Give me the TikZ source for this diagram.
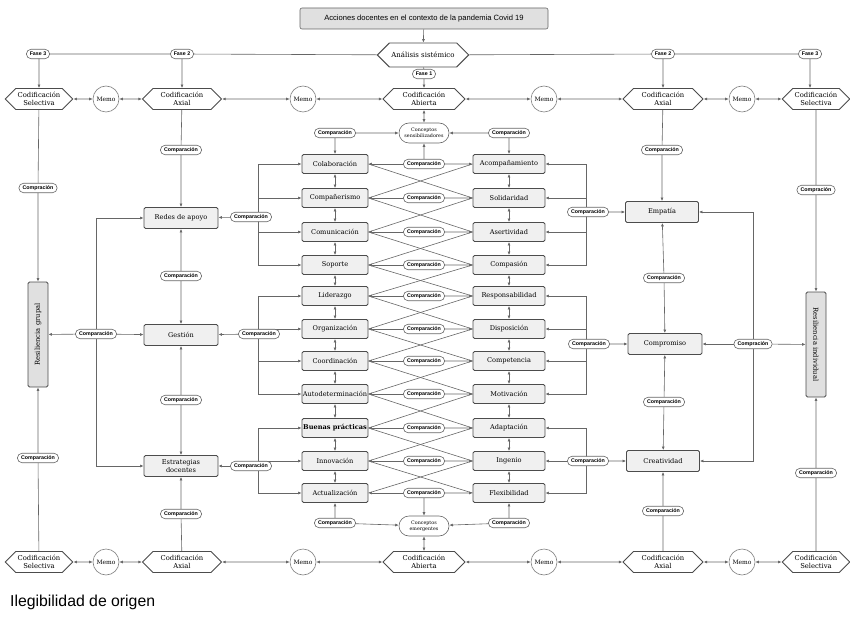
\documentclass[tikz,border=0pt]{standalone}
\usepackage{fontspec}
\setmainfont{DejaVu Serif}
\setsansfont{Liberation Sans}
\usetikzlibrary{shapes.symbols,shapes.misc,arrows.meta,backgrounds}

\begin{document}
\begin{tikzpicture}[x=1pt,y=-1pt]
  \tikzset{
    EdgeStyle/.style={draw=black!60,line width=0.6pt},
    ArrowStyle/.style={EdgeStyle,-{Latex[length=3.5pt,width=3pt]}},
    BothStyle/.style={EdgeStyle,{Latex[length=3.5pt,width=3pt]}-{Latex[length=3.5pt,width=3pt]}},
    BoxStyle/.style={draw=black!70,line width=0.9pt,rounded corners=1.5pt,fill=black!6,
      minimum height=19,inner sep=1pt,align=center,font=\fontsize{6.6}{7.6}\selectfont},
    HexStyle/.style={signal,signal to=east and west,draw=black!70,line width=0.9pt,fill=white,
      minimum height=21,inner xsep=2pt,inner ysep=1pt,align=center,font=\fontsize{6.8}{7.8}\selectfont},
    MemoStyle/.style={circle,draw=black!50,line width=0.6pt,fill=white,minimum size=26,
      inner sep=0pt,font=\fontsize{6}{7}\selectfont},
    TagStyle/.style={rounded rectangle,draw=black!60,line width=0.6pt,fill=white,minimum height=9.5,
      inner xsep=3pt,inner ysep=1.5pt,font=\sffamily\bfseries\fontsize{5.3}{6}\selectfont},
    IdeaStyle/.style={rounded rectangle,draw=black!60,line width=0.6pt,fill=white,minimum width=52,
      minimum height=20,inner sep=1pt,align=center,font=\fontsize{4.8}{5.6}\selectfont},
    ResStyle/.style={draw=black!70,line width=0.9pt,rounded corners=1.5pt,fill=black!12,
      minimum height=20,inner sep=1pt,font=\fontsize{6.8}{7.8}\selectfont}
  }
  \useasboundingbox (0,0) rectangle (850,617);

  \node[draw=black!60,line width=0.6pt,rounded corners=2pt,fill=black!12,minimum width=248,
    minimum height=21,font=\sffamily\fontsize{7.6}{8.6}\selectfont] (title) at (424,18.5)
    {Acciones docentes en el contexto de la pandemia Covid 19};
  \node[HexStyle,minimum width=85,minimum height=24,font=\fontsize{7}{8}\selectfont] (anal) at (423,55) {Análisis sistémico};
  \node[TagStyle] (f1) at (424,74) {Fase 1};
  \node[TagStyle] (f2L) at (182,54) {Fase 2};
  \node[TagStyle] (f3L) at (38,54) {Fase 3};
  \node[TagStyle] (f2R) at (663,54) {Fase 2};
  \node[TagStyle] (f3R) at (810,54) {Fase 3};

  \foreach \y/\p in {99/T,562/B}{
    \node[HexStyle,minimum width=64] (sel\p1) at (39,\y) {Codificación\\Selectiva};
    \node[MemoStyle] (mem\p1) at (106,\y) {Memo};
    \node[HexStyle,minimum width=79] (ax\p1) at (182,\y) {Codificación\\Axial};
    \node[MemoStyle] (mem\p2) at (303,\y) {Memo};
    \node[HexStyle,minimum width=82] (ab\p) at (424,\y) {Codificación\\Abierta};
    \node[MemoStyle] (mem\p3) at (544,\y) {Memo};
    \node[HexStyle,minimum width=80] (ax\p2) at (663,\y) {Codificación\\Axial};
    \node[MemoStyle] (mem\p4) at (742,\y) {Memo};
    \node[HexStyle,minimum width=60] (sel\p2) at (816,\y) {Codificación\\Selectiva};
  }

  \node[IdeaStyle] (consS) at (424,133) {Conceptos\\sensibilizadores};
  \node[IdeaStyle] (consE) at (424,526) {Conceptos\\emergentes};
  \node[TagStyle] (cU) at (335,133) {Comparación};
  \node[TagStyle] (cV) at (509,133) {Comparación};
  \node[TagStyle] (cW) at (335,523) {Comparación};
  \node[TagStyle] (cX) at (509,523) {Comparación};

  \foreach \y/\l/\r [count=\i] in {164/Colaboración/Acompañamiento,198/Compañerismo/Solidaridad,
    232/Comunicación/Asertividad,265/Soporte/Compasión,296/Liderazgo/Responsabilidad,
    329/Organización/Disposición,361/Coordinación/Competencia,394/Autodeterminación/Motivación,
    428/{\bfseries Buenas prácticas}/Adaptación,461/Innovación/Ingenio,493/Actualización/Flexibilidad}{
    \node[BoxStyle,minimum width=66] (L\i) at (335,\y) {\l};
    \node[BoxStyle,minimum width=72] (R\i) at (509,\y) {\r};
    \node[TagStyle] (M\i) at (424,\y) {Comparación};
  }

  \node[BoxStyle,minimum width=74,minimum height=21] (redes) at (181,218) {Redes de apoyo};
  \node[BoxStyle,minimum width=74,minimum height=21] (gestion) at (181,335) {Gestión};
  \node[BoxStyle,minimum width=74,minimum height=21] (estr) at (181,466) {Estrategias\\docentes};
  \node[BoxStyle,minimum width=73,minimum height=21] (emp) at (662,212) {Empatía};
  \node[BoxStyle,minimum width=74,minimum height=21] (comp) at (665,344) {Compromiso};
  \node[BoxStyle,minimum width=73,minimum height=21] (crea) at (663,461) {Creatividad};
  \node[ResStyle,rotate=90,minimum width=105] (resG) at (38,334.5) {Resiliencia grupal};
  \node[ResStyle,rotate=-90,minimum width=105] (resI) at (816,344.5) {Resiliencia individual};

  \node[TagStyle] (cA) at (38,188) {Compración};
  \node[TagStyle] (cB) at (38,458) {Comparación};
  \node[TagStyle] (cC) at (96,334) {Comparación};
  \node[TagStyle] (cD) at (181,150) {Comparación};
  \node[TagStyle] (cE) at (181,276) {Comparación};
  \node[TagStyle] (cF) at (181,400) {Comparación};
  \node[TagStyle] (cG) at (181,514) {Comparación};
  \node[TagStyle] (cH) at (251,217) {Comparación};
  \node[TagStyle] (cI) at (259,334) {Comparación};
  \node[TagStyle] (cJ) at (251,466) {Comparación};
  \node[TagStyle] (cK) at (662,150) {Comparación};
  \node[TagStyle] (cL) at (664,278) {Comparación};
  \node[TagStyle] (cM) at (664,402) {Comparación};
  \node[TagStyle] (cN) at (663,511) {Comparación};
  \node[TagStyle] (cO) at (753,344) {Compración};
  \node[TagStyle] (cP) at (816,190) {Compración};
  \node[TagStyle] (cQ) at (816,473) {Comparación};
  \node[TagStyle] (cR) at (588,212) {Comparación};
  \node[TagStyle] (cS) at (589,344) {Comparación};
  \node[TagStyle] (cT) at (588,461) {Comparación};

  \coordinate (bl) at (258,0);
  \coordinate (br) at (586,0);

  \node[anchor=base west,inner sep=0pt,font=\sffamily\fontsize{15.8}{18}\selectfont] (note) at (10,606)
    {Ilegibilidad de origen};

  \begin{scope}[on background layer]
    \draw[ArrowStyle] (title) -- (anal);
    \draw[EdgeStyle] (anal) -- (f1);
    \draw[ArrowStyle] (f1) -- (abT);
    \draw[EdgeStyle] (anal) -- (f2L) -- (f3L);
    \draw[EdgeStyle] (anal) -- (f2R) -- (f3R);
    \draw[ArrowStyle] (f3L) -- (selT1 |- f3L) -- (selT1);
    \draw[ArrowStyle] (f2L) -- (axT1);
    \draw[ArrowStyle] (f2R) -- (axT2);
    \draw[ArrowStyle] (f3R) -- (f3R |- selT2.north);
    \foreach \p in {T,B}{
      \draw[BothStyle] (sel\p1) -- (mem\p1);
      \draw[BothStyle] (mem\p1) -- (ax\p1);
      \draw[BothStyle] (ax\p1) -- (mem\p2);
      \draw[BothStyle] (mem\p2) -- (ab\p);
      \draw[BothStyle] (ab\p) -- (mem\p3);
      \draw[BothStyle] (mem\p3) -- (ax\p2);
      \draw[BothStyle] (ax\p2) -- (mem\p4);
      \draw[BothStyle] (mem\p4) -- (sel\p2);
    }

    \draw[BothStyle] (abT) -- (consS);
    \draw[BothStyle] (consE) -- (abB);
    \draw[ArrowStyle] (cU) -- (consS);
    \draw[ArrowStyle] (cV) -- (consS);
    \draw[ArrowStyle] (cU) -- (L1);
    \draw[ArrowStyle] (cV) -- (R1);
    \draw[ArrowStyle] (M1) -- (consS);
    \draw[ArrowStyle] (cW) -- (consE);
    \draw[ArrowStyle] (cX) -- (consE);
    \draw[ArrowStyle] (cW) -- (L11);
    \draw[ArrowStyle] (cX) -- (R11);
    \draw[ArrowStyle] (M11) -- (consE);

    \foreach \i in {1,...,11}{
      \draw[ArrowStyle] (M\i) -- (L\i);
      \draw[ArrowStyle] (M\i) -- (R\i);
    }
    \foreach \i [evaluate=\i as \j using int(\i+1)] in {1,...,10}{
      \draw[BothStyle] (L\i) -- (L\j);
      \draw[BothStyle] (R\i) -- (R\j);
      \draw[EdgeStyle] (L\i.east) -- (R\j.west);
      \draw[EdgeStyle] (L\j.east) -- (R\i.west);
    }

    \draw[ArrowStyle] (cH) -- (redes);
    \draw[ArrowStyle] (cI) -- (gestion);
    \draw[ArrowStyle] (cJ) -- (estr);
    \foreach \i in {1,...,4} \draw[ArrowStyle] (bl |- cH) |- (L\i);
    \foreach \i in {5,...,8} \draw[ArrowStyle] (bl |- cI) |- (L\i);
    \foreach \i in {9,...,11} \draw[ArrowStyle] (bl |- cJ) |- (L\i);
    \draw[ArrowStyle] (cR) -- (emp);
    \draw[ArrowStyle] (cS) -- (comp);
    \draw[ArrowStyle] (cT) -- (crea);
    \foreach \i in {1,...,4} \draw[ArrowStyle] (br |- cR) |- (R\i);
    \foreach \i in {5,...,8} \draw[ArrowStyle] (br |- cS) |- (R\i);
    \foreach \i in {9,...,11} \draw[ArrowStyle] (br |- cT) |- (R\i);

    \draw[EdgeStyle] (selT1) -- (cA);
    \draw[ArrowStyle] (cA) -- (resG);
    \draw[EdgeStyle] (selB1) -- (cB);
    \draw[ArrowStyle] (cB) -- (resG);
    \draw[ArrowStyle] (cC) -- (resG);
    \draw[ArrowStyle] (cC) -- (gestion);
    \draw[ArrowStyle] (cC) |- (redes);
    \draw[ArrowStyle] (cC) |- (estr);
    \draw[EdgeStyle] (axT1) -- (cD);
    \draw[ArrowStyle] (cD) -- (redes);
    \draw[ArrowStyle] (cE) -- (redes);
    \draw[ArrowStyle] (cE) -- (gestion);
    \draw[ArrowStyle] (cF) -- (gestion);
    \draw[ArrowStyle] (cF) -- (estr);
    \draw[EdgeStyle] (axB1) -- (cG);
    \draw[ArrowStyle] (cG) -- (estr);

    \draw[EdgeStyle] (axT2) -- (cK);
    \draw[ArrowStyle] (cK) -- (emp);
    \draw[ArrowStyle] (cL) -- (emp);
    \draw[ArrowStyle] (cL) -- (comp);
    \draw[ArrowStyle] (cM) -- (comp);
    \draw[ArrowStyle] (cM) -- (crea);
    \draw[EdgeStyle] (axB2) -- (cN);
    \draw[ArrowStyle] (cN) -- (crea);
    \draw[ArrowStyle] (cO) -- (comp);
    \draw[ArrowStyle] (cO) -- (resI);
    \draw[ArrowStyle] (cO) |- (emp);
    \draw[ArrowStyle] (cO) |- (crea);
    \draw[EdgeStyle] (selT2) -- (cP);
    \draw[ArrowStyle] (cP) -- (resI);
    \draw[EdgeStyle] (selB2) -- (cQ);
    \draw[ArrowStyle] (cQ) -- (resI);
  \end{scope}
\end{tikzpicture}
\end{document}
